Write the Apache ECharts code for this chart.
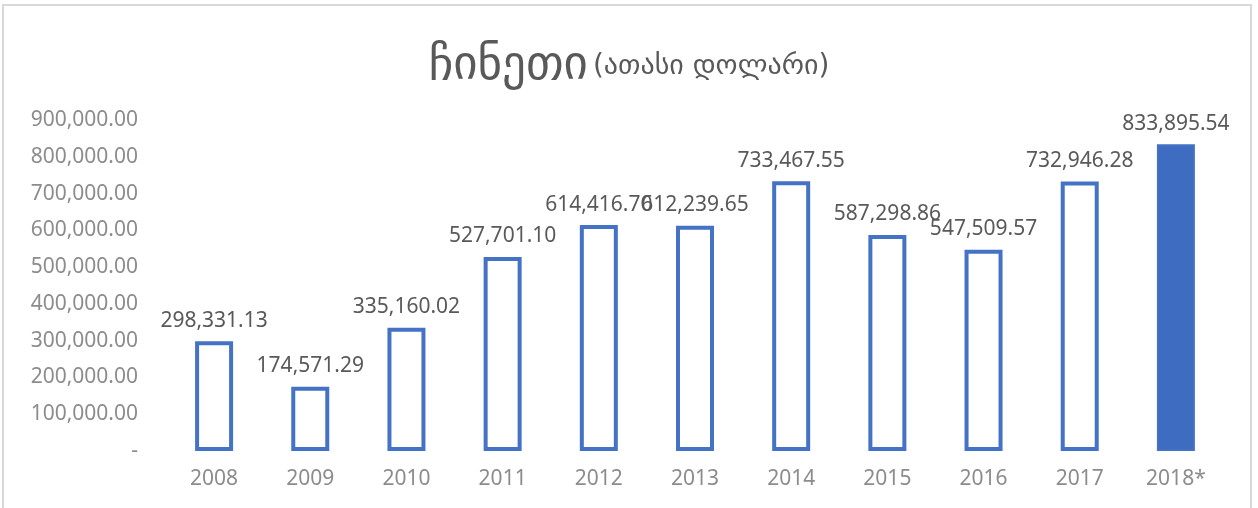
<!DOCTYPE html>
<html>
<head>
<meta charset="utf-8">
<script src="https://cdn.jsdelivr.net/npm/echarts@6/dist/echarts.min.js"></script>
<style>
  html, body { margin: 0; padding: 0; background: #fff; }
  .frame {
    position: absolute; left: 2px; top: 4px; width: 1250px; height: 520px;
    border: 2px solid #d9d9d9; border-bottom: none; box-sizing: border-box;
  }
  #chart { position: absolute; left: 0; top: 0; width: 1258px; height: 508px; }
</style>
</head>
<body>
<div class="frame"></div>
<div id="chart"></div>
<script>
// 年份
const years = ['2008', '2009', '2010', '2011', '2012', '2013', '2014', '2015', '2016', '2017', '2018*'];
// 数值 (ათასი დოლარი)
const values = [298331.13, 174571.29, 335160.02, 527701.10, 614416.70, 612239.65, 733467.55, 587298.86, 547509.57, 732946.28, 833895.54];
const yTicks = [0, 100000, 200000, 300000, 400000, 500000, 600000, 700000, 800000, 900000];

const blue = '#4472c4';
const fmt = v => v === 0 ? '-' : v.toLocaleString('en-US', { minimumFractionDigits: 2, maximumFractionDigits: 2 });

let myChart = echarts.init(document.getElementById('chart'));
let option = {
  animation: false,
  title: {
    text: '{a|ჩინეთი} {b|(ათასი დოლარი)}',
    left: 'center',
    top: 38,
    textStyle: {
      fontWeight: 'normal',
      rich: {
        a: { fontFamily: 'DejaVu Sans', fontWeight: 'normal', fontSize: 47, color: '#595959' },
        b: { fontFamily: 'DejaVu Sans', fontWeight: 'normal', fontSize: 28, color: '#595959' }
      }
    }
  },
  grid: { left: 166, right: 34, top: 120, bottom: 57 },
  xAxis: {
    type: 'category',
    data: years,
    axisLine: { show: false },
    axisTick: { show: false },
    axisLabel: { color: '#8c8c8c', fontSize: 21, fontFamily: 'Noto Sans', margin: 18 }
  },
  yAxis: {
    type: 'value',
    min: yTicks[0],
    max: yTicks[yTicks.length - 1],
    interval: 100000,
    splitLine: { show: false },
    axisLine: { show: false },
    axisTick: { show: false },
    axisLabel: { color: '#8c8c8c', fontSize: 21, fontFamily: 'Noto Sans', margin: 28, formatter: fmt }
  },
  series: [{
    type: 'bar',
    barWidth: 38,
    data: values.map((v, i) => ({
      value: v,
      itemStyle: i === values.length - 1
        ? { color: '#3d6cc0', borderColor: blue, borderWidth: 2 }
        : { color: '#fff', borderColor: blue, borderWidth: 4 }
    })),
    label: {
      show: true,
      position: 'top',
      distance: 10,
      color: '#595959',
      fontSize: 21,
      fontFamily: 'Noto Sans',
      formatter: p => fmt(p.value)
    }
  }]
};
myChart.setOption(option);
</script>
</body>
</html>
